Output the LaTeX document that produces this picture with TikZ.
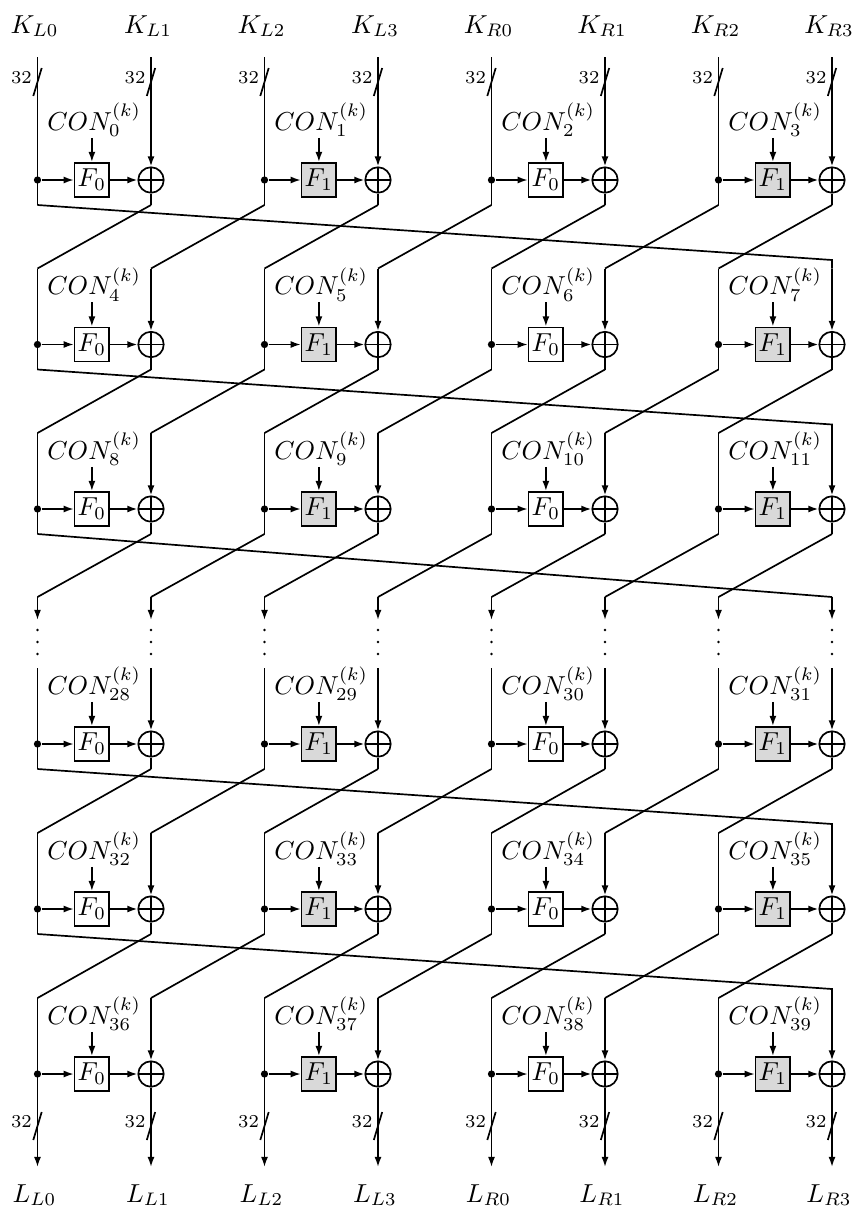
\documentclass[tikz,border=0pt]{standalone}
\usetikzlibrary{arrows.meta,calc}
\definecolor{fgray}{RGB}{217,217,217}
\begin{document}
\begin{tikzpicture}[x=0.385pt,y=-0.385pt,line width=0.65pt,
  >={Latex[length=3.9pt,width=2.7pt]},
  fbox/.style={draw,fill=#1,minimum width=13.3pt,minimum height=13.2pt,inner sep=0pt},
  xorop/.style={draw,circle,minimum size=9.8pt,inner sep=0pt,
    path picture={\draw (path picture bounding box.north) -- (path picture bounding box.south)
      (path picture bounding box.west) -- (path picture bounding box.east);}},
  dotn/.style={circle,fill,inner sep=0pt,minimum size=2.8pt},
  conl/.style={anchor=base west,inner sep=0pt},
  lbl/.style={anchor=base,inner sep=0pt},
  w32/.style={inner sep=0pt,font=\scriptsize},
  vdot/.style={circle,fill,inner sep=0pt,minimum size=1pt}]
\useasboundingbox (0,0) rectangle (854,1209);
% top and bottom labels, bus widths
\foreach \i/\s in {0/L0,1/L1,2/L2,3/L3,4/R0,5/R1,6/R2,7/R3}{
  \pgfmathsetmacro\xi{37.5+113.5*\i}
  \node[lbl] (K\i) at (\xi-3,33) {$K_{\s}$};
  \node[lbl] (L\i) at (\xi-3,1202) {$L_{\s}$};
  \node[w32] (n\i) at (\xi-16,78) {32};
  \node[w32] (m\i) at (\xi-16,1122) {32};
  \draw (\xi-4.2,96) -- (\xi+4.2,68);
  \draw (\xi-4.2,1140) -- (\xi+4.2,1112);
  \coordinate (Z\i) at (\xi,1167);
  \coordinate (E\i) at (\xi,597);
  \coordinate (A\i) at (\xi,620);
  \node[vdot] (p\i) at (\xi,630) {};
  \node[vdot] (q\i) at (\xi,642) {};
  \node[vdot] (r\i) at (\xi,654) {};
  \draw[->] (E\i) -- (A\i);
}
% rounds
\foreach \R/\n/\topy [count=\rr] in {180/0/57, 344.5/4/268.5, 509/8/433, 744/28/668, 909/32/833, 1074/36/998}{
  \foreach \j in {0,...,3}{
    \pgfmathsetmacro\xa{37.5+227*\j}
    \pgfmathsetmacro\xb{\xa+113.5}
    \pgfmathtruncatemacro\k{\n+\j}
    \pgfmathtruncatemacro\ia{2*\j}
    \pgfmathtruncatemacro\ib{2*\j+1}
    \pgfmathtruncatemacro\fnum{mod(\j,2)}
    \ifodd\j\def\fc{fgray}\else\def\fc{white}\fi
    \coordinate (T\rr-\ia) at (\xa,\topy);
    \coordinate (T\rr-\ib) at (\xb,\topy);
    \coordinate (B\rr-\ia) at (\xa,\R+25);
    \coordinate (B\rr-\ib) at (\xb,\R+25);
    \node[dotn] (D\rr-\j) at (\xa,\R) {};
    \node[fbox=\fc] (F\rr-\j) at (\xa+54.4,\R) {$F_{\fnum}$};
    \node[xorop] (X\rr-\j) at (\xb,\R) {};
    \node[conl] (C\rr-\j) at (\xa+9,\R-50) {$CON^{(k)}_{\k}$};
    \draw[->] (F\rr-\j.north |- C\rr-\j.south) -- (F\rr-\j.north);
    \draw[->] (D\rr-\j) -- (F\rr-\j);
    \draw[->] (F\rr-\j) -- (X\rr-\j);
    \draw (T\rr-\ia) -- (B\rr-\ia);
    \draw[->] (T\rr-\ib) -- (X\rr-\j.north);
    \draw (X\rr-\j.south) -- (B\rr-\ib);
  }
}
% word permutations between rounds
\foreach \rr/\R in {1/180,2/344.5,4/744,5/909}{
  \pgfmathtruncatemacro\nx{\rr+1}
  \draw (B\rr-0) -- ({37.5+113.5*7},\R+80) -- (T\nx-7);
  \foreach \i in {1,...,7}{
    \pgfmathtruncatemacro\im{\i-1}
    \draw (B\rr-\i) -- (T\nx-\im);
  }
}
% permutation into the elided rounds
\draw (B3-0) -- (E7);
\foreach \i in {1,...,7}{
  \pgfmathtruncatemacro\im{\i-1}
  \draw (B3-\i) -- (E\im);
}
% outputs
\foreach \i in {0,...,7}{
  \draw[->] (B6-\i) -- (Z\i);
}
\end{tikzpicture}
\end{document}
